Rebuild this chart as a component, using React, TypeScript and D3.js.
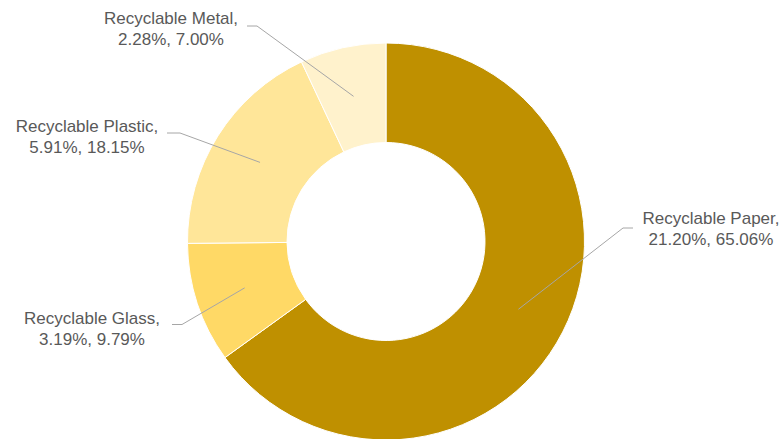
import React from "react";
import * as d3 from "d3";

const categories = ["Recyclable Paper", "Recyclable Glass", "Recyclable Plastic", "Recyclable Metal"];
const values = [21.2, 3.19, 5.91, 2.28];
const percents = [65.06, 9.79, 18.15, 7.0];
const colors = ["#BF9000", "#FFD966", "#FFE699", "#FFF2CC"];

// label layout (center x, first baseline y, leader-line end x, y)
const LABELS = [
  { x: 711, y: 224, lx: 633, ly: 228, hx: 623 },
  { x: 92, y: 324, lx: 172, ly: 324.5, hx: 182 },
  { x: 87, y: 132, lx: 167, ly: 133, hx: 180 },
  { x: 171, y: 24, lx: 247, ly: 26, hx: 257 },
];

const W = 784;
const H = 439;
const CX = 386;
const CY = 241.5;
const R = 198.5;
const r = 99;

export default function App() {
  const pie = d3
    .pie<number>()
    .sort(null)
    .value((d) => d)(percents);
  const arc = d3.arc<d3.PieArcDatum<number>>().innerRadius(r).outerRadius(R);
  const fmt = d3.format(".2f");
  return (
    <svg
      width={W}
      height={H}
      style={{ position: "absolute", left: 0, top: 0, background: "#fff" }}
      fontFamily="'Liberation Sans', Arial, sans-serif"
    >
      <g transform={`translate(${CX},${CY})`}>
        {pie.map((p, i) => (
          <path key={i} d={arc(p) || ""} fill={colors[i]} stroke="#fff" strokeWidth={1} />
        ))}
      </g>
      {pie.map((p, i) => {
        const [cx, cy] = arc.centroid(p);
        const L = LABELS[i];
        return (
          <polyline
            key={"l" + i}
            points={`${CX + cx},${CY + cy} ${L.hx},${L.ly} ${L.lx},${L.ly}`}
            fill="none"
            stroke="#A6A6A6"
            strokeWidth={1}
          />
        );
      })}
      {pie.map((p, i) => {
        const L = LABELS[i];
        return (
          <text key={"t" + i} x={L.x} y={L.y} textAnchor="middle" fontSize={17} fill="#595959">
            <tspan x={L.x}>{categories[i]},</tspan>
            <tspan x={L.x} dy={20.5}>
              {fmt(values[i])}%, {fmt(percents[i])}%
            </tspan>
          </text>
        );
      })}
    </svg>
  );
}
